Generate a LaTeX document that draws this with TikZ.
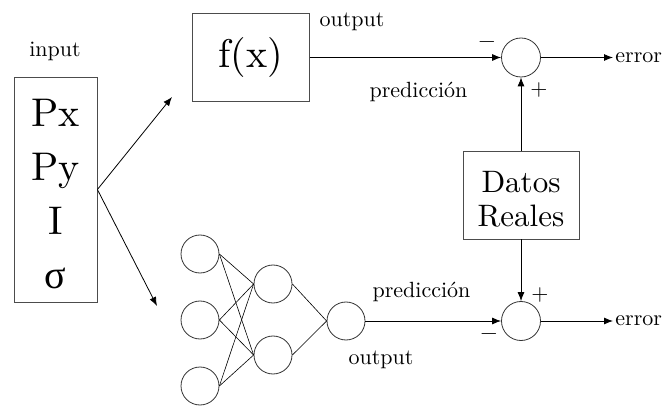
\documentclass[tikz,border=0pt]{standalone}
\usepackage{fontspec}
\setmainfont{lmroman10-regular}[Extension=.otf, BoldFont=lmroman10-bold, ItalicFont=lmroman10-italic]
\newfontfamily\grk{Liberation Serif}
\usetikzlibrary{arrows.meta}
\begin{document}
\begin{tikzpicture}[x=1pt, y=-1pt, line width=0.8pt,
  every node/.style={font=\fontsize{22}{26}\selectfont},
  box/.style={draw=black!70, line width=0.8pt, align=center},
  neuron/.style={draw=black!80, circle, minimum size=38pt, inner sep=0pt},
  sumnode/.style={draw=black!80, circle, minimum size=39pt, inner sep=0pt},
  tip/.style={-{Latex[length=9pt,width=7pt]}}]
  \useasboundingbox (0,0) rectangle (667,406);
  % input block
  \node[anchor=base] (inlbl) at (55,57) {input};
  \node[box, minimum width=83pt, minimum height=225pt,
    font=\fontsize{40}{54}\selectfont] (inp) at (55.5,189.5) {\rule{0pt}{36pt}Px\\Py\\I\\{\grk σ}};
  \coordinate (up) at (172,97);
  \coordinate (dn) at (157,306);
  \draw[tip] (inp.east) -- (up);
  \draw[tip] (inp.east) -- (dn);
  % model branch
  \node[box, minimum width=117pt, minimum height=87.5pt,
    font=\fontsize{40}{48}\selectfont] (fx) at (250.7,57.5) {f(x)};
  \node[sumnode] (s1) at (521,57.5) {};
  \node[sumnode] (s2) at (521,321) {};
  \node[box, minimum width=116pt, minimum height=87.5pt,
    font=\fontsize{31}{34}\selectfont] (dr) at (521,195.3) {\rule{0pt}{29pt}Datos\\Reales};
  \coordinate (e1) at (613,57.5);
  \coordinate (e2) at (613,321);
  \draw[tip] (fx.east) -- (s1.west);
  \draw[tip] (dr.north) -- (s1.south);
  \draw[tip] (dr.south) -- (s2.north);
  \draw[tip] (s1.east) -- (e1);
  \draw[tip] (s2.east) -- (e2);
  \node[anchor=west, inner sep=2pt] (err1) at (e1) {error};
  \node[anchor=west, inner sep=2pt] (err2) at (e2) {error};
  % labels
  \node[anchor=base] (o1) at (352,26.7) {output};
  \node[anchor=base] (p1) at (418.5,97.7) {predicción};
  \node[anchor=base] (p2) at (421.5,297.7) {predicción};
  \node[anchor=base] (o2) at (381,364) {output};
  \node (m1) at (487,45) {−};
  \node (pl1) at (539,90) {+};
  \node (pl2) at (540,295) {+};
  \node (m2) at (489,337) {−};
  % network
  \foreach \n/\y in {1/254,2/320,3/386} \node[neuron] (i\n) at (200,\y) {};
  \foreach \n/\y in {1/284,2/355} \node[neuron] (h\n) at (273,\y) {};
  \node[neuron] (nout) at (346,321) {};
  \foreach \a in {1,2,3} { \foreach \b in {1,2} { \draw[line width=0.6pt] (i\a.east) -- (h\b.west); } }
  \foreach \b in {1,2} { \draw[line width=0.6pt] (h\b.east) -- (nout.west); }
  \draw[tip] (nout.east) -- (s2.west);
\end{tikzpicture}
\end{document}
